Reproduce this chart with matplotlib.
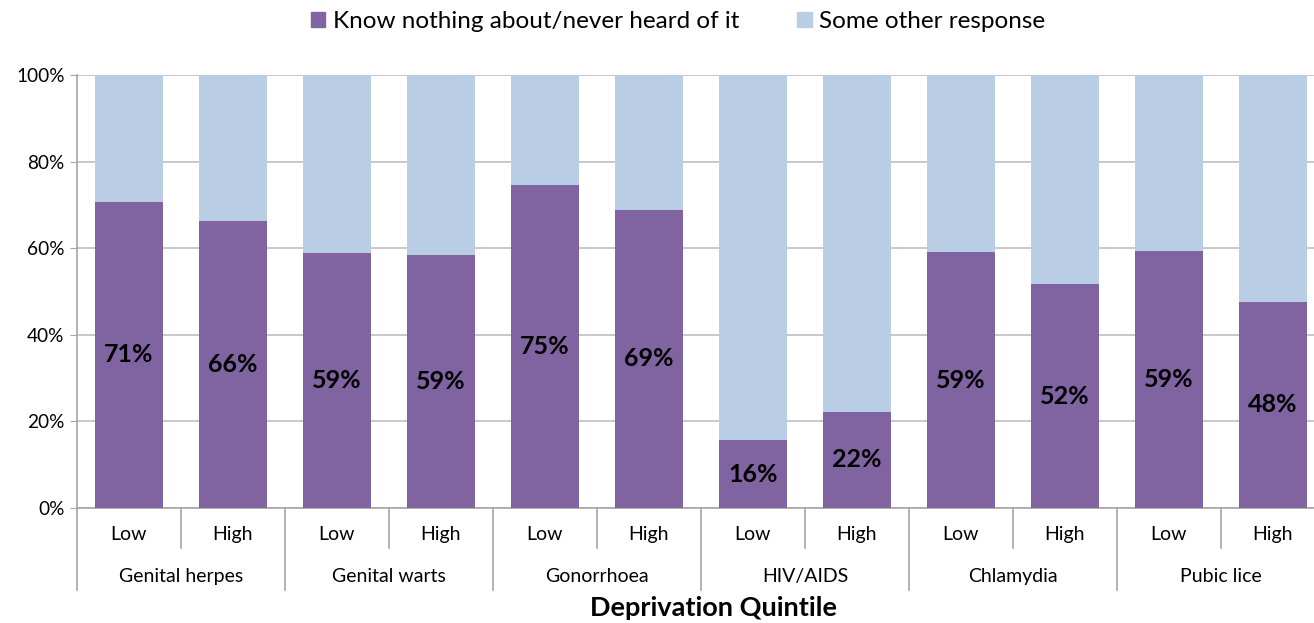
import matplotlib.pyplot as plt
from matplotlib.patches import Patch
from matplotlib.transforms import blended_transform_factory

plt.rcParams['font.family'] = ['Lato', 'DejaVu Sans']

# data
diseases = ['Genital herpes', 'Genital warts', 'Gonorrhoea', 'HIV/AIDS', 'Chlamydia', 'Pubic lice']
levels = ['Low', 'High']
know_nothing = [70.7, 66.3, 58.9, 58.5, 74.7, 68.9, 15.7, 22.2, 59.1, 51.7, 59.4, 47.6]
labels = ['71%', '66%', '59%', '59%', '75%', '69%', '16%', '22%', '59%', '52%', '59%', '48%']
other = [100 - v for v in know_nothing]

purple = '#8064A2'
lightblue = '#B9CDE5'
grey = '#A6A6A6'

fig = plt.figure(figsize=(13.14, 6.23), dpi=100)
# plot area runs a little past the right edge, like the original
ax = fig.add_axes([77 / 1314, 0.1846, 1248 / 1314, 0.695])

n = len(know_nothing)
x = list(range(n))
ax.bar(x, know_nothing, width=0.66, color=purple, zorder=3)
ax.bar(x, other, width=0.66, bottom=know_nothing, color=lightblue, zorder=3)

for xi, v, lab in zip(x, know_nothing, labels):
    ax.text(xi, v / 2, lab, ha='center', va='center', fontsize=18,
            fontweight='bold', color='black', zorder=4)

ax.set_xlim(-0.5, n - 0.5)
ax.set_ylim(0, 100)
ax.set_yticks([0, 20, 40, 60, 80, 100])
ax.set_yticklabels(['0%', '20%', '40%', '60%', '80%', '100%'], fontsize=13.7)
ax.yaxis.grid(True, color='#BFBFBF', linewidth=1.2, zorder=0)
ax.tick_params(axis='y', length=5, color=grey, pad=4)
ax.set_xticks([])
for s in ['top', 'right']:
    ax.spines[s].set_visible(False)
ax.spines['left'].set_color(grey)
ax.spines['bottom'].set_color(grey)
ax.spines['left'].set_linewidth(1.2)
ax.spines['bottom'].set_linewidth(1.2)

# two-level category axis
tr = blended_transform_factory(ax.transData, ax.transAxes)
for b in range(n + 1):
    pos = b - 0.5
    low = -0.19 if b % 2 == 0 else -0.093
    ax.plot([pos, pos], [0, low], transform=tr, color=grey, lw=1.2, clip_on=False)
for xi in x:
    ax.text(xi, -0.062, levels[xi % 2], transform=tr, ha='center', va='center', fontsize=14)
for gi, name in enumerate(diseases):
    ax.text(2 * gi + 0.5, -0.158, name, transform=tr, ha='center', va='center', fontsize=14)
fig.text(713 / 1314, 0.024, 'Deprivation Quintile', ha='center', va='center',
         fontsize=19.5, fontweight='bold')

handles = [Patch(color=purple), Patch(color=lightblue)]
fig.legend(handles, ['Know nothing about/never heard of it', 'Some other response'],
           loc='center', bbox_to_anchor=(678 / 1314, 0.965), ncol=2, frameon=False,
           fontsize=17.5, handlelength=0.6, handleheight=0.6, handletextpad=0.3,
           columnspacing=2.4)

fig.savefig('out.png', dpi=100)
